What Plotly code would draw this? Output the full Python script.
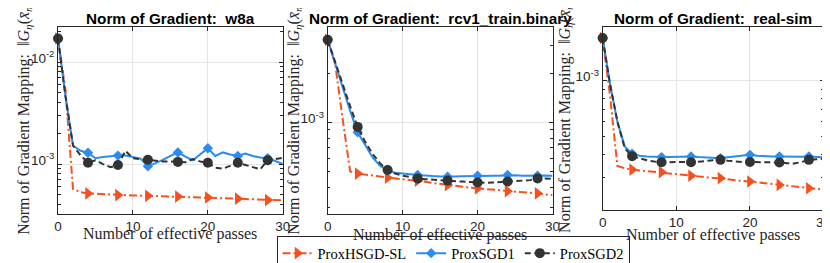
import plotly.graph_objects as go

# ---------------- data ----------------
passes = list(range(31))
marker_every = 4

datasets = ["w8a", "rcv1_train.binary", "real-sim"]
series_names = ["ProxHSGD-SL", "ProxSGD1", "ProxSGD2"]

w8a_hsgd = [1.70e-2, 5.3e-3, 5.7e-4, 5.3e-4, 5.15e-4, 5.1e-4, 5.05e-4, 5.0e-4, 4.96e-4, 4.94e-4,
            4.92e-4, 4.9e-4, 4.88e-4, 4.86e-4, 4.84e-4, 4.82e-4, 4.8e-4, 4.78e-4, 4.75e-4, 4.72e-4,
            4.7e-4, 4.67e-4, 4.64e-4, 4.6e-4, 4.57e-4, 4.54e-4, 4.5e-4, 4.47e-4, 4.43e-4, 4.42e-4, 4.4e-4]
w8a_sgd1 = [1.70e-2, 4.6e-3, 1.52e-3, 1.35e-3, 1.29e-3, 1.14e-3, 1.17e-3, 1.19e-3, 1.21e-3, 1.21e-3,
            1.16e-3, 1.13e-3, 9.5e-4, 1.02e-3, 1.1e-3, 1.2e-3, 1.3e-3, 1.18e-3, 1.09e-3, 1.25e-3,
            1.43e-3, 1.2e-3, 1.3e-3, 1.24e-3, 1.2e-3, 1.27e-3, 1.2e-3, 1.16e-3, 1.14e-3, 1.07e-3, 1.0e-3]
w8a_sgd2 = [1.70e-2, 4.6e-3, 1.52e-3, 1.22e-3, 1.03e-3, 1.09e-3, 1.0e-3, 9.3e-4, 9.8e-4, 1.35e-3,
            1.14e-3, 1.12e-3, 1.1e-3, 1.07e-3, 1.06e-3, 1.06e-3, 1.05e-3, 1.04e-3, 1.12e-3, 1.06e-3,
            1.03e-3, 9.2e-4, 9.0e-4, 9.6e-4, 1.03e-3, 9.8e-4, 9.3e-4, 8.9e-4, 1.09e-3, 1.12e-3, 1.15e-3]

rcv1_hsgd = [3.23e-3, 2.3e-3, 1.05e-3, 5.0e-4, 4.85e-4, 4.78e-4, 4.7e-4, 4.63e-4, 4.57e-4, 4.52e-4,
             4.47e-4, 4.42e-4, 4.38e-4, 4.32e-4, 4.25e-4, 4.18e-4, 4.12e-4, 4.07e-4, 4.02e-4, 3.97e-4,
             3.93e-4, 3.9e-4, 3.85e-4, 3.81e-4, 3.78e-4, 3.75e-4, 3.72e-4, 3.69e-4, 3.66e-4, 3.62e-4, 3.57e-4]
rcv1_sgd1 = [3.23e-3, 2.3e-3, 1.65e-3, 1.18e-3, 8.7e-4, 7.3e-4, 6.1e-4, 5.4e-4, 5.1e-4, 4.9e-4,
             4.87e-4, 4.8e-4, 4.75e-4, 4.7e-4, 4.68e-4, 4.66e-4, 4.64e-4, 4.65e-4, 4.67e-4, 4.68e-4,
             4.7e-4, 4.68e-4, 4.7e-4, 4.72e-4, 4.75e-4, 4.73e-4, 4.7e-4, 4.72e-4, 4.7e-4, 4.72e-4, 4.7e-4]
rcv1_sgd2 = [3.23e-3, 2.35e-3, 1.7e-3, 1.26e-3, 9.4e-4, 7.6e-4, 6.4e-4, 5.6e-4, 5.1e-4, 4.85e-4,
             4.7e-4, 4.6e-4, 4.53e-4, 4.48e-4, 4.44e-4, 4.41e-4, 4.39e-4, 4.36e-4, 4.33e-4, 4.3e-4,
             4.27e-4, 4.25e-4, 4.27e-4, 4.3e-4, 4.33e-4, 4.35e-4, 4.38e-4, 4.42e-4, 4.53e-4, 4.52e-4, 4.5e-4]

real_hsgd = [1.70e-3, 8.3e-4, 3.45e-4, 3.35e-4, 3.29e-4, 3.26e-4, 3.24e-4, 3.21e-4, 3.19e-4, 3.15e-4,
             3.12e-4, 3.08e-4, 3.05e-4, 3.03e-4, 3.0e-4, 2.98e-4, 2.96e-4, 2.93e-4, 2.9e-4, 2.87e-4,
             2.84e-4, 2.81e-4, 2.78e-4, 2.75e-4, 2.72e-4, 2.69e-4, 2.66e-4, 2.64e-4, 2.61e-4, 2.59e-4, 2.58e-4]
real_sgd1 = [1.70e-3, 9.6e-4, 6.0e-4, 4.4e-4, 4.02e-4, 3.92e-4, 3.88e-4, 3.86e-4, 3.85e-4, 3.86e-4,
             3.87e-4, 3.87e-4, 3.88e-4, 3.85e-4, 3.83e-4, 3.82e-4, 3.8e-4, 3.84e-4, 3.88e-4, 3.92e-4,
             3.96e-4, 3.92e-4, 3.89e-4, 3.88e-4, 3.88e-4, 3.87e-4, 3.86e-4, 3.87e-4, 3.88e-4, 3.86e-4, 3.84e-4]
real_sgd2 = [1.70e-3, 9.6e-4, 6.0e-4, 4.3e-4, 3.89e-4, 3.78e-4, 3.7e-4, 3.64e-4, 3.61e-4, 3.61e-4,
             3.62e-4, 3.62e-4, 3.61e-4, 3.63e-4, 3.67e-4, 3.7e-4, 3.72e-4, 3.68e-4, 3.64e-4, 3.62e-4,
             3.62e-4, 3.62e-4, 3.61e-4, 3.6e-4, 3.6e-4, 3.57e-4, 3.55e-4, 3.62e-4, 3.72e-4, 3.75e-4, 3.77e-4]

x_tickvals = [0, 10, 20, 30]
x_ticktext = ["0", "10", "20", "30"]
y_tickvals = [1e-3, 1e-2]
y_ticktext = ["10<sup>-3</sup>", "10<sup>-2</sup>"]

panel_series = [
    [w8a_hsgd, w8a_sgd1, w8a_sgd2],
    [rcv1_hsgd, rcv1_sgd1, rcv1_sgd2],
    [real_hsgd, real_sgd1, real_sgd2],
]

# ---------------- style ----------------
W, H = 830, 263
colors = ["#F4511E", "#2B8CEE", "#333333"]
dashes = ["8px,3px,2px,3px", "solid", "6px,3.5px"]
symbols = ["triangle-right", "diamond", "circle"]
msizes = [11, 8, 10]
AX = "#262626"
GRID = "#e4e4e4"
SERIF = "Liberation Serif"
SANS = "Liberation Sans"

# plot boxes in pixels: (left, right, top, bottom)
boxes = [(46.7, 274.7, 19, 205.5), (320.3, 548.5, 19, 205.5), (599.3, 823.5, 19, 201.8)]
yranges = [(-3.485, -1.656), (-3.56, -2.412), (-3.70, -2.71)]
xtitle_y = [226, 227, 227]
ytitle_x = [12, 286, 561]
ytitle_y = [106, 106, 104]


def px(x):
    return x / W


def py(y):
    return 1 - y / H


fig = go.Figure()
layout = dict(width=W, height=H, margin=dict(l=0, r=0, t=0, b=0),
              paper_bgcolor="white", plot_bgcolor="white", showlegend=True)
annotations = []

for i in range(3):
    sfx = "" if i == 0 else str(i + 1)
    for j in range(3):
        yv = panel_series[i][j]
        mcol = [colors[j] if (p % marker_every == 0) else "rgba(0,0,0,0)" for p in passes]
        fig.add_trace(go.Scatter(
            x=passes, y=yv, mode="lines+markers", name=series_names[j],
            xaxis="x" + sfx, yaxis="y" + sfx, showlegend=(i == 0),
            line=dict(color=colors[j], width=2, dash=dashes[j]),
            marker=dict(symbol=symbols[j], size=msizes[j], color=mcol, line=dict(width=0)),
            cliponaxis=False,
        ))
    l, r, t, b = boxes[i]
    layout["xaxis" + sfx] = dict(
        domain=[px(l), px(r)], anchor="y" + sfx, range=[0, 30],
        tickvals=x_tickvals, ticktext=x_ticktext, ticks="inside", ticklen=4, tickcolor=AX,
        showline=True, linecolor=AX, linewidth=1, mirror="ticks",
        showgrid=True, gridcolor=GRID, gridwidth=1, zeroline=False,
        tickfont=dict(family=SANS, size=13.5, color=AX),
    )
    layout["yaxis" + sfx] = dict(
        domain=[py(b), py(t)], anchor="x" + sfx, type="log", range=list(yranges[i]),
        tickvals=y_tickvals, ticktext=y_ticktext, ticks="inside", ticklen=4, tickcolor=AX,
        showline=True, linecolor=AX, linewidth=1, mirror="ticks",
        showgrid=True, gridcolor=GRID, gridwidth=1, zeroline=False,
        tickfont=dict(family=SANS, size=13.5, color=AX), ticklabelshift=-4,
        minor=dict(ticks="inside", ticklen=2.5, tickcolor=AX, showgrid=False, dtick="D1"),
    )
    cx = (l + r) / 2
    annotations.append(dict(
        text="<b>Norm of Gradient:\u00a0 " + datasets[i] + "</b>", x=px(cx), y=py(0.5),
        xref="paper", yref="paper", xanchor="center", yanchor="top", showarrow=False,
        font=dict(family=SANS, size=15.3, color="black"),
    ))
    annotations.append(dict(
        text="Number of effective passes", x=px(cx), y=py(xtitle_y[i]),
        xref="paper", yref="paper", xanchor="center", yanchor="middle", showarrow=False,
        font=dict(family=SERIF, size=16, color=AX),
    ))
    annotations.append(dict(
        text="Norm of Gradient Mapping:  \u2016<i>G</i><sub><i>\u03b7</i></sub>(<i>x\u0304</i><sub><i>m</i></sub>)\u2016",
        x=px(ytitle_x[i]), y=py(ytitle_y[i]), textangle=-90,
        xref="paper", yref="paper", xanchor="center", yanchor="middle", showarrow=False,
        font=dict(family=SERIF, size=16, color=AX),
    ))

layout["annotations"] = annotations
layout["legend"] = dict(
    orientation="h", x=px(447.5), xanchor="center", y=0.003, yanchor="bottom",
    bordercolor=AX, borderwidth=1, bgcolor="white",
    font=dict(family=SERIF, size=14.5, color="black"),
    itemwidth=30, tracegroupgap=0,
)
fig.update_layout(**layout)
fig.write_html("out.html")
